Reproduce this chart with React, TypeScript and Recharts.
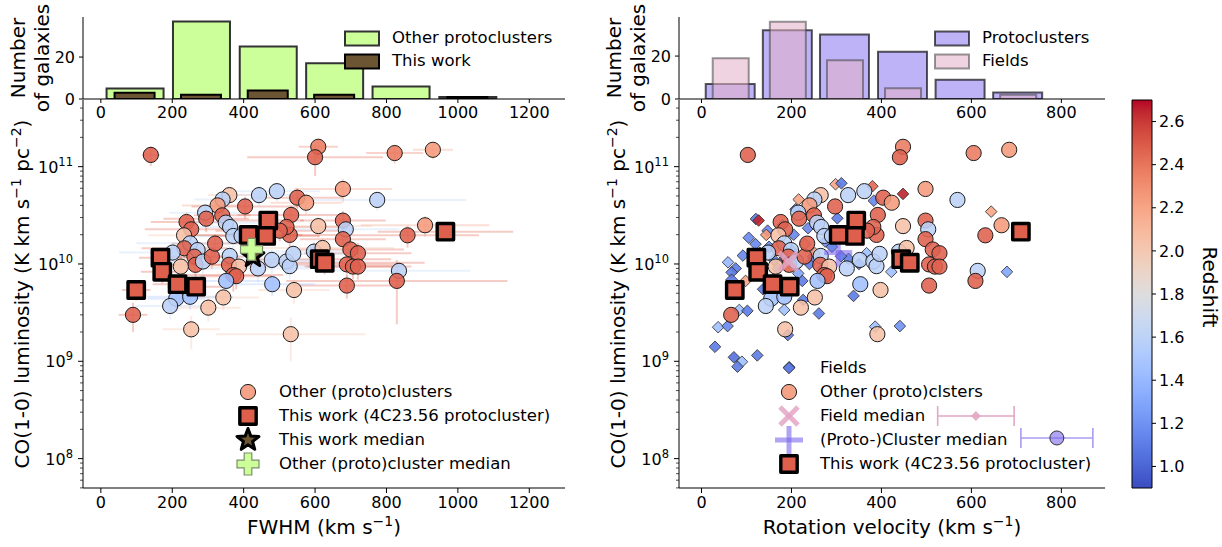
import React from 'react';
import {
  ComposedChart,
  ScatterChart,
  Scatter,
  Bar,
  XAxis,
  YAxis,
  ErrorBar,
  Legend,
  ReferenceArea,
} from 'recharts';

const FONT = '"DejaVu Sans", Verdana, sans-serif';
const W = 1222;
const H = 547;

// ---------------- Histogram data ----------------
const fwhmBinCenters = [95, 281, 468, 654, 840, 1027, 1214];
const fwhmCountsOther = [5, 37, 25, 17, 6, 1, 0];
const fwhmCountsThisWork = [3, 2, 4, 2, 0, 1, 0];

const vrotBinCenters = [64, 191, 318, 447, 575, 703, 831];
const vrotCountsProto = [7, 32, 30, 22, 9, 3, 0];
const vrotCountsFields = [19, 36, 18, 5, 0, 2, 0];

// ---------------- Tick labels ----------------
const fwhmTicks = [0, 200, 400, 600, 800, 1000, 1200];
const vrotTicks = [0, 200, 400, 600, 800];
const countTicks = [0, 20];
const lumMajorTicks = [1e8, 1e9, 1e10, 1e11];
const redshiftTicks = [1.0, 1.2, 1.4, 1.6, 1.8, 2.0, 2.2, 2.4, 2.6];

// ---------------- Other (proto)cluster galaxies ----------------
const otherFwhm = [140, 609, 600, 823, 930, 678, 774, 360, 341, 327, 443, 493, 550, 575, 404, 292, 295, 340, 350, 362, 533, 240, 253, 233, 250, 234, 271, 262, 265, 224, 286, 311, 320, 201, 361, 359, 387, 371, 379, 351, 440, 479, 480, 520, 529, 539, 541, 343, 301, 211, 194, 250, 90, 253, 532, 597, 621, 609, 529, 520, 501, 371, 394, 678, 686, 678, 699, 720, 689, 706, 720, 689, 835, 829, 859, 908];
const otherFwhmErr = [25, 55, 190, 80, 56, 137, 250, 60, 80, 100, 120, 120, 130, 100, 150, 100, 120, 80, 120, 100, 150, 100, 130, 100, 150, 120, 100, 100, 120, 60, 100, 90, 120, 150, 180, 120, 100, 140, 100, 150, 150, 130, 120, 200, 150, 150, 100, 100, 90, 80, 100, 120, 40, 80, 210, 150, 200, 150, 150, 150, 180, 120, 120, 120, 150, 120, 150, 150, 160, 130, 150, 150, 200, 310, 200, 180];
const otherVrot = [103, 448, 441, 605, 684, 498, 569, 265, 251, 240, 326, 362, 404, 423, 297, 215, 217, 250, 257, 266, 392, 176, 186, 171, 184, 172, 199, 193, 195, 165, 210, 229, 235, 148, 265, 264, 284, 273, 279, 258, 323, 352, 353, 382, 389, 396, 398, 252, 221, 155, 143, 184, 66, 186, 391, 439, 456, 448, 389, 382, 368, 273, 290, 498, 504, 498, 514, 529, 506, 519, 529, 506, 614, 609, 631, 667];
// luminosity in units of 1e10 K km s^-1 pc^-2
const otherLum = [13.2, 16, 12.5, 13.8, 14.9, 5.9, 4.55, 5.1, 4.6, 4.0, 5.1, 5.6, 4.8, 4.26, 3.9, 3.37, 2.92, 3.16, 2.66, 2.4, 3.19, 2.7, 2.27, 1.97, 1.63, 1.45, 1.39, 1.19, 0.98, 0.94, 1.06, 1.19, 1.62, 1.31, 1.21, 0.98, 0.94, 0.77, 0.75, 0.67, 0.9, 1.1, 0.62, 1.06, 0.95, 1.27, 0.54, 0.453, 0.356, 0.44, 0.37, 0.46, 0.3, 0.213, 0.19, 1.34, 1.46, 2.45, 1.99, 2.4, 2.2, 1.94, 1.94, 2.79, 2.27, 1.8, 1.41, 1.29, 0.99, 0.94, 0.94, 0.6, 0.85, 0.67, 1.97, 2.5];
const otherLumErr = [3.0, 3.5, 4.5, 3.0, 3.0, 1.6, 1.0, 1.2, 1.0, 1.0, 1.2, 1.2, 1.2, 1.0, 1.0, 0.8, 0.8, 0.8, 0.6, 0.6, 0.8, 0.7, 0.6, 0.5, 0.4, 0.4, 0.35, 0.3, 0.25, 0.25, 0.3, 0.3, 0.4, 0.35, 0.3, 0.25, 0.25, 0.25, 0.2, 0.2, 0.25, 0.3, 0.15, 0.3, 0.25, 0.3, 0.15, 0.12, 0.1, 0.12, 0.1, 0.12, 0.1, 0.08, 0.09, 0.35, 0.4, 0.6, 0.5, 0.6, 0.5, 0.5, 0.5, 0.7, 0.6, 0.5, 0.35, 0.35, 0.25, 0.25, 0.25, 0.16, 0.2, 0.43, 0.5, 0.6];
const otherZ = [2.47, 2.38, 2.47, 2.38, 2.25, 2.25, 1.6, 2.05, 1.6, 2.25, 1.6, 1.6, 2.47, 2.25, 2.47, 1.6, 2.47, 2.47, 1.6, 1.6, 2.47, 2.47, 2.47, 2.05, 1.6, 2.47, 1.6, 2.47, 2.47, 2.05, 1.6, 2.47, 2.47, 1.6, 1.6, 2.47, 2.05, 2.47, 2.47, 1.45, 1.6, 1.6, 1.45, 1.6, 1.6, 1.6, 2.05, 2.05, 2.05, 1.45, 1.6, 1.45, 2.47, 2.05, 2.05, 1.6, 2.05, 2.05, 2.47, 2.47, 2.47, 1.6, 1.6, 2.47, 1.6, 2.47, 2.47, 2.47, 2.47, 2.47, 2.47, 2.47, 1.6, 2.47, 2.47, 2.25];

// ---------------- This work (4C23.56 protocluster) ----------------
const twFwhm = [99, 167, 172, 215, 267, 414, 469, 463, 613, 627, 965];
const twFwhmErr = [40, 60, 60, 70, 80, 150, 100, 150, 200, 280, 190];
const twVrot = [74, 122, 126, 158, 196, 305, 344, 341, 444, 463, 710];
const twLum = [0.54, 1.16, 0.83, 0.62, 0.585, 1.99, 2.79, 1.94, 1.12, 1.03, 2.15];
const twLumErr = [0.12, 0.25, 0.2, 0.15, 0.15, 0.4, 0.5, 0.4, 0.25, 0.25, 0.4];
const twRedshift = 2.48;

// ---------------- Field galaxies ----------------
const fieldVrot = [298, 311, 380, 448, 216, 383, 209, 121, 127, 302, 237, 147, 105, 144, 92, 59, 76, 67, 98, 137, 224, 226, 184, 84, 102, 261, 338, 37, 58, 30, 72, 90, 80, 124, 195, 192, 386, 441, 422, 367, 327, 644, 679, 248, 252, 67, 161, 150, 170, 200, 230, 180, 160, 215, 270, 290, 130, 240, 205, 275, 310, 185, 120, 350];
const fieldLum = [6.6, 6.75, 6.3, 5.25, 4.6, 4.47, 3.65, 2.9, 2.8, 2.95, 2.33, 2.2, 1.86, 1.99, 1.22, 1.04, 0.9, 0.82, 0.67, 0.55, 0.67, 0.427, 0.337, 0.337, 0.33, 0.31, 0.47, 0.224, 0.23, 0.141, 0.11, 0.099, 0.088, 0.115, 0.087, 0.186, 0.227, 0.23, 0.83, 1.29, 1.13, 3.45, 0.83, 1.19, 1.29, 0.69, 1.1, 1.5, 0.9, 1.4, 1.6, 2.5, 0.7, 0.8, 0.9, 1.5, 1.3, 1.0, 2.0, 1.7, 1.2, 1.15, 1.6, 1.0];
const fieldZ = [2.2, 1.1, 2.45, 2.65, 2.2, 1.15, 1.15, 1.1, 2.65, 1.1, 1.15, 1.15, 1.15, 2.25, 1.15, 1.4, 1.1, 1.1, 2.2, 1.1, 1.1, 1.1, 1.45, 1.45, 1.1, 1.1, 1.1, 1.45, 1.15, 1.1, 1.05, 1.45, 1.1, 1.1, 1.1, 1.1, 1.45, 1.2, 1.45, 1.45, 1.1, 2.2, 1.3, 1.15, 2.2, 1.1, 1.15, 1.15, 1.15, 1.1, 2.2, 1.2, 1.15, 1.3, 1.15, 1.1, 1.15, 1.1, 1.15, 1.2, 1.1, 1.2, 1.15, 1.1];

// ---------------- Medians ----------------
const otherMedianFwhm = [422];
const otherMedianLum = [1.41];
const twMedianFwhm = [426];
const twMedianLum = [1.2];
const fieldMedianVrot = [193];
const fieldMedianLum = [1.06];
const clusterMedianVrot = [304];
const clusterMedianLum = [1.31];
// median +/- spread markers drawn beside the legend
const fieldSpreadVrot = [610];
const fieldSpreadErr = [85];
const fieldSpreadLum = [0.0274];
const clusterSpreadVrot = [790];
const clusterSpreadErr = [80];
const clusterSpreadLum = [0.0163];

// ---------------- colour map (coolwarm) ----------------
const Z_MIN = 0.9;
const Z_MAX = 2.7;
const CW: number[][] = [
  [59, 76, 192], [68, 90, 204], [77, 104, 215], [87, 117, 225], [98, 130, 234], [108, 142, 241], [119, 154, 247], [130, 165, 251],
  [141, 176, 254], [152, 185, 255], [163, 194, 255], [174, 201, 253], [184, 208, 249], [194, 213, 244], [204, 217, 238], [213, 219, 230],
  [221, 221, 221], [229, 216, 209], [236, 211, 197], [241, 204, 184], [245, 196, 172], [247, 187, 160], [247, 177, 148], [247, 166, 135],
  [244, 154, 123], [241, 141, 111], [236, 127, 99], [229, 112, 88], [222, 96, 77], [213, 80, 66], [203, 62, 56], [192, 40, 47], [180, 4, 38],
];
function cwT(t: number): string {
  const tt = Math.max(0, Math.min(1, t));
  const f = tt * 32;
  const i = Math.min(31, Math.floor(f));
  const u = f - i;
  const a = CW[i];
  const b = CW[i + 1];
  const c = a.map((v, k) => Math.round(v + (b[k] - v) * u));
  return `rgb(${c[0]},${c[1]},${c[2]})`;
}
const coolwarm = (z: number) => cwT((z - Z_MIN) / (Z_MAX - Z_MIN));

// ---------------- scales ----------------
const FWHM_DOMAIN: [number, number] = [-50, 1300];
const VROT_DOMAIN: [number, number] = [-50, 897];
const LUM_MIN = Math.pow(10, 7.698);
const LUM_MAX = Math.pow(10, 11.685);
const lumTicksAll: number[] = [];
[7, 8, 9, 10, 11].forEach((e) =>
  [1, 2, 3, 4, 5, 6, 7, 8, 9].forEach((m) => {
    const v = m * Math.pow(10, e);
    if (v >= LUM_MIN && v <= LUM_MAX) lumTicksAll.push(v);
  })
);

// ---------------- tables ----------------
const fwhmHistData = fwhmBinCenters.map((c, i) => ({ c, o: fwhmCountsOther[i], t: fwhmCountsThisWork[i] }));
const vrotHistData = vrotBinCenters.map((c, i) => ({ c, p: vrotCountsProto[i], f: vrotCountsFields[i] }));

const otherFwhmRows = otherFwhm.map((x, i) => ({ x, y: otherLum[i] * 1e10, z: otherZ[i], xe: otherFwhmErr[i], ye: otherLumErr[i] * 1e10 }));
const otherVrotRows = otherVrot.map((x, i) => ({ x, y: otherLum[i] * 1e10, z: otherZ[i] }));
const twFwhmRows = twFwhm.map((x, i) => ({ x, y: twLum[i] * 1e10, z: twRedshift, xe: twFwhmErr[i], ye: twLumErr[i] * 1e10 }));
const twVrotRows = twVrot.map((x, i) => ({ x, y: twLum[i] * 1e10, z: twRedshift }));
const fieldRows = fieldVrot.map((x, i) => ({ x, y: fieldLum[i] * 1e10, z: fieldZ[i] }));
const zGroups = Array.from(new Set(otherZ));

// ---------------- shapes ----------------
const noShape = () => <g />;
const circleShape = (p: any) => (
  <circle cx={p.cx} cy={p.cy} r={7.6} fill={coolwarm(p.payload.z)} fillOpacity={0.88} stroke="#1e1e1e" strokeWidth={1} />
);
const squareShape = (p: any) => (
  <rect x={p.cx - 8.2} y={p.cy - 8.2} width={16.4} height={16.4} fill={coolwarm(p.payload.z)} stroke="#000" strokeWidth={3.4} strokeLinejoin="round" />
);
const diamondPath = (cx: number, cy: number, s: number) => `M${cx},${cy - s}L${cx + s},${cy}L${cx},${cy + s}L${cx - s},${cy}Z`;
const diamondShape = (p: any) => (
  <path d={diamondPath(p.cx, p.cy, 5.8)} fill={coolwarm(p.payload.z)} fillOpacity={0.9} stroke="#2a2a2a" strokeWidth={0.8} />
);
function starPath(cx: number, cy: number, R: number, r: number) {
  let d = '';
  for (let k = 0; k < 10; k++) {
    const ang = -Math.PI / 2 + (k * Math.PI) / 5;
    const rad = k % 2 === 0 ? R : r;
    d += (k === 0 ? 'M' : 'L') + (cx + rad * Math.cos(ang)).toFixed(2) + ',' + (cy + rad * Math.sin(ang)).toFixed(2);
  }
  return d + 'Z';
}
const starShape = (p: any) => <path d={starPath(p.cx, p.cy, 11.5, 4.8)} fill="#6b5533" stroke="#000" strokeWidth={3} strokeLinejoin="round" />;
function plusPath(cx: number, cy: number, a: number, b: number) {
  return `M${cx - b},${cy - a}L${cx + b},${cy - a}L${cx + b},${cy - b}L${cx + a},${cy - b}L${cx + a},${cy + b}L${cx + b},${cy + b}L${cx + b},${cy + a}L${cx - b},${cy + a}L${cx - b},${cy + b}L${cx - a},${cy + b}L${cx - a},${cy - b}L${cx - b},${cy - b}Z`;
}
const greenPlusShape = (p: any) => <path d={plusPath(p.cx, p.cy, 11, 3.8)} fill="#ccff99" stroke="#7d8c6c" strokeWidth={1.2} />;
const pinkXShape = (p: any) => (
  <g stroke="#e3a6c4" strokeOpacity={0.85} strokeWidth={5}>
    <line x1={p.cx - 9} y1={p.cy - 9} x2={p.cx + 9} y2={p.cy + 9} />
    <line x1={p.cx - 9} y1={p.cy + 9} x2={p.cx + 9} y2={p.cy - 9} />
  </g>
);
const purplePlusShape = (p: any) => (
  <g stroke="#7b68ee" strokeOpacity={0.6} strokeWidth={5}>
    <line x1={p.cx - 14} y1={p.cy} x2={p.cx + 14} y2={p.cy} />
    <line x1={p.cx} y1={p.cy - 14} x2={p.cx} y2={p.cy + 14} />
  </g>
);
const pinkDiamondShape = (p: any) => <path d={diamondPath(p.cx, p.cy, 5)} fill="#e3a6c4" fillOpacity={0.9} />;
const purpleCircleShape = (p: any) => (
  <circle cx={p.cx} cy={p.cy} r={7} fill="#7b68ee" fillOpacity={0.6} stroke="#333" strokeWidth={1} />
);

// ---------------- text helpers ----------------
const tickStyle = { fill: '#000', fontSize: 16, fontFamily: FONT };

const LogTick = (props: any) => {
  const { x, y, payload } = props;
  const v = payload.value as number;
  const major = lumMajorTicks.includes(v);
  const e = Math.round(Math.log10(v));
  return (
    <g>
      <line x1={x - (major ? 5 : 3)} y1={y} x2={x} y2={y} stroke="#000" strokeWidth={major ? 1 : 0.7} />
      {major && (
        <text x={x - 10} y={y + 6} textAnchor="end" fontSize={16} fontFamily={FONT} fill="#000">
          10<tspan dy={-7} fontSize={11.5}>{e}</tspan>
        </text>
      )}
    </g>
  );
};

const xLabel = (prefix: string, cx: number) => () => (
  <text x={cx} y={534} textAnchor="middle" fontSize={20} fontFamily={FONT} fill="#000">
    {prefix}
    <tspan dy={-8} fontSize={14}>−1</tspan>
    <tspan dy={8}>)</tspan>
  </text>
);
const lumLabel = (cx: number) => () => (
  <text x={cx} y={294 + 7} transform={`rotate(-90, ${cx}, 294)`} textAnchor="middle" fontSize={20} fontFamily={FONT} fill="#000">
    CO(1-0) luminosity (K km s
    <tspan dy={-8} fontSize={14}>−1</tspan>
    <tspan dy={8}> pc</tspan>
    <tspan dy={-8} fontSize={14}>−2</tspan>
    <tspan dy={8}>)</tspan>
  </text>
);
const countLabel = (cx: number) => () => (
  <g fontSize={20} fontFamily={FONT} fill="#000">
    <text x={cx} y={58 + 7} transform={`rotate(-90, ${cx}, 58)`} textAnchor="middle">Number</text>
    <text x={cx + 24} y={58 + 7} transform={`rotate(-90, ${cx + 24}, 58)`} textAnchor="middle">of galaxies</text>
  </g>
);

// ---------------- legend ----------------
type Row = { label: React.ReactNode; marker: (cx: number, cy: number) => React.ReactNode };
const legendBox = (rows: Row[], rowH: number, markerW: number, gap: number) => () => (
  <div style={{ fontFamily: FONT, fontSize: 16.5, color: '#000' }}>
    {rows.map((r, i) => (
      <div key={i} style={{ display: 'flex', alignItems: 'center', height: rowH, whiteSpace: 'nowrap' }}>
        <svg width={markerW} height={rowH} style={{ overflow: 'visible', flex: 'none', display: 'block' }}>
          {r.marker(markerW / 2, rowH / 2)}
        </svg>
        <span style={{ marginLeft: gap, lineHeight: 1 }}>{r.label}</span>
      </div>
    ))}
  </div>
);
const patch = (fill: string, fillOpacity: number, stroke: string, strokeOpacity: number) => (cx: number, cy: number) => (
  <rect x={cx - 17} y={cy - 7} width={34} height={14} fill={fill} fillOpacity={fillOpacity} stroke={stroke} strokeOpacity={strokeOpacity} strokeWidth={2} />
);
const m = (shape: (p: any) => React.ReactNode, z = 2.27) => (cx: number, cy: number) => shape({ cx, cy, payload: { z } });

const leftHistLegend: Row[] = [
  { label: 'Other protoclusters', marker: patch('#ccff99', 1, '#333', 1) },
  { label: 'This work', marker: patch('#6b5533', 1, '#000', 1) },
];
const rightHistLegend: Row[] = [
  { label: 'Protoclusters', marker: patch('#7b68ee', 0.5, '#000', 0.65) },
  { label: 'Fields', marker: patch('#e3afc6', 0.55, '#444', 0.55) },
];
const leftScatterLegend: Row[] = [
  { label: 'Other (proto)clusters', marker: m(circleShape, 2.27) },
  { label: 'This work (4C23.56 protocluster)', marker: m(squareShape, twRedshift) },
  { label: 'This work median', marker: m(starShape) },
  { label: 'Other (proto)cluster median', marker: m(greenPlusShape) },
];
const rightScatterLegend: Row[] = [
  { label: 'Fields', marker: m(diamondShape, 1.1) },
  { label: 'Other (proto)clsters', marker: m(circleShape, 2.27) },
  { label: 'Field median', marker: m(pinkXShape) },
  { label: '(Proto-)Cluster median', marker: m(purplePlusShape) },
  { label: 'This work (4C23.56 protocluster)', marker: m(squareShape, twRedshift) },
];

const abs: React.CSSProperties = { position: 'absolute', left: 0, top: 0 };

// ---------------- frame axes ----------------
const frameAxes = (domain: [number, number]) => [
  <XAxis key="ft" xAxisId="top" orientation="top" type="number" domain={domain} allowDataOverflow height={0} tick={false} tickLine={false} stroke="#000" />,
  <YAxis key="fr" yAxisId="right" orientation="right" type="number" domain={[0, 1]} allowDataOverflow width={0} tick={false} tickLine={false} stroke="#000" />,
];

function Hist(props: {
  plotLeft: number; plotRight: number; domain: [number, number]; ticks: number[]; data: any[]; ymax: number;
  keyA: string; keyB: string; sizeA: number; sizeB: number; styleA: any; styleB: any;
  legendRows: Row[]; legendLeft: number; labelX: number;
}) {
  const p = props;
  return (
    <ComposedChart width={W} height={H} data={p.data} margin={{ top: 17, right: W - p.plotRight, bottom: H - 99 - 30, left: p.plotLeft - 50 }}>
      <XAxis xAxisId="a" dataKey="c" type="number" domain={p.domain} allowDataOverflow ticks={p.ticks} interval={0} height={30} tickSize={4} tickMargin={4} tick={tickStyle} stroke="#000" />
      <XAxis xAxisId="b" dataKey="c" type="number" domain={p.domain} allowDataOverflow hide />
      <YAxis yAxisId="l" type="number" domain={[0, p.ymax]} allowDataOverflow ticks={countTicks} interval={0} width={50} tickSize={4} tickMargin={4} tick={tickStyle} stroke="#000" label={countLabel(p.labelX)} />
      {frameAxes(p.domain)}
      <Bar xAxisId="a" yAxisId="l" dataKey={p.keyA} barSize={p.sizeA} {...p.styleA} isAnimationActive={false} />
      <Bar xAxisId="b" yAxisId="l" dataKey={p.keyB} barSize={p.sizeB} {...p.styleB} isAnimationActive={false} />
      <Legend
        layout="vertical"
        align="center"
        verticalAlign="middle"
        content={legendBox(p.legendRows, 23, 36, 12)}
        wrapperStyle={{ left: p.legendLeft, top: 26.5, width: 200 }}
      />
    </ComposedChart>
  );
}

const ERR_OPACITY = 0.32;

export default function App() {
  return (
    <div style={{ position: 'absolute', left: 0, top: 0, width: W, height: H, background: '#fff', overflow: 'hidden' }}>
      {/* Left histogram */}
      <div style={abs}>
        <Hist
          plotLeft={83} plotRight={565} domain={FWHM_DOMAIN} ticks={fwhmTicks} data={fwhmHistData} ymax={39.1}
          keyA="o" keyB="t" sizeA={57} sizeB={40}
          styleA={{ fill: '#ccff99', stroke: '#333', strokeWidth: 2 }}
          styleB={{ fill: '#6b5533', stroke: '#000', strokeWidth: 2 }}
          legendRows={leftHistLegend} legendLeft={344} labelX={18}
        />
      </div>
      {/* Right histogram */}
      <div style={abs}>
        <Hist
          plotLeft={679} plotRight={1105} domain={VROT_DOMAIN} ticks={vrotTicks} data={vrotHistData} ymax={38.2}
          keyA="p" keyB="f" sizeA={49} sizeB={36}
          styleA={{ fill: '#7b68ee', fillOpacity: 0.5, stroke: '#000', strokeOpacity: 0.65, strokeWidth: 2 }}
          styleB={{ fill: '#e3afc6', fillOpacity: 0.55, stroke: '#444', strokeOpacity: 0.55, strokeWidth: 2 }}
          legendRows={rightHistLegend} legendLeft={934} labelX={614}
        />
      </div>

      {/* Left scatter: FWHM */}
      <div style={abs}>
        <ScatterChart width={W} height={H} margin={{ top: 100, right: W - 565, bottom: H - 488 - 40, left: 83 - 60 }}>
          <XAxis dataKey="x" type="number" domain={FWHM_DOMAIN} allowDataOverflow ticks={fwhmTicks} interval={0} height={40} tickSize={5} tickMargin={4} tick={tickStyle} stroke="#000" label={xLabel('FWHM (km s', 324)} />
          <YAxis dataKey="y" type="number" scale="log" domain={[LUM_MIN, LUM_MAX]} allowDataOverflow ticks={lumTicksAll} interval={0} width={60} tickSize={0} tickMargin={0} tickLine={false} tick={<LogTick />} stroke="#000" label={lumLabel(22)} />
          {frameAxes(FWHM_DOMAIN)}
          {zGroups.map((z) => (
            <Scatter key={'err' + z} data={otherFwhmRows.filter((r) => r.z === z)} shape={noShape} isAnimationActive={false} legendType="none">
              <ErrorBar dataKey="xe" direction="x" width={0} stroke={coolwarm(z)} strokeOpacity={ERR_OPACITY} strokeWidth={2} isAnimationActive={false} />
              <ErrorBar dataKey="ye" direction="y" width={0} stroke={coolwarm(z)} strokeOpacity={ERR_OPACITY} strokeWidth={2} isAnimationActive={false} />
            </Scatter>
          ))}
          <Scatter data={twFwhmRows} shape={noShape} isAnimationActive={false} legendType="none">
            <ErrorBar dataKey="xe" direction="x" width={0} stroke={coolwarm(twRedshift)} strokeOpacity={ERR_OPACITY} strokeWidth={2} isAnimationActive={false} />
            <ErrorBar dataKey="ye" direction="y" width={0} stroke={coolwarm(twRedshift)} strokeOpacity={ERR_OPACITY} strokeWidth={2} isAnimationActive={false} />
          </Scatter>
          <Scatter data={otherFwhmRows} shape={circleShape} isAnimationActive={false} />
          <Scatter data={twFwhmRows} shape={squareShape} isAnimationActive={false} />
          <Scatter data={twMedianFwhm.map((x, i) => ({ x, y: twMedianLum[i] * 1e10 }))} shape={starShape} isAnimationActive={false} />
          <Scatter data={otherMedianFwhm.map((x, i) => ({ x, y: otherMedianLum[i] * 1e10 }))} shape={greenPlusShape} isAnimationActive={false} />
          <Legend layout="vertical" align="center" verticalAlign="middle" content={legendBox(leftScatterLegend, 24, 40, 11)} wrapperStyle={{ left: 228, top: 380, width: 330 }} />
        </ScatterChart>
      </div>

      {/* Right scatter: rotation velocity */}
      <div style={abs}>
        <ScatterChart width={W} height={H} margin={{ top: 100, right: W - 1105, bottom: H - 488 - 40, left: 679 - 60 }}>
          <XAxis dataKey="x" type="number" domain={VROT_DOMAIN} allowDataOverflow ticks={vrotTicks} interval={0} height={40} tickSize={5} tickMargin={4} tick={tickStyle} stroke="#000" label={xLabel('Rotation velocity (km s', 892)} />
          <YAxis dataKey="y" type="number" scale="log" domain={[LUM_MIN, LUM_MAX]} allowDataOverflow ticks={lumTicksAll} interval={0} width={60} tickSize={0} tickMargin={0} tickLine={false} tick={<LogTick />} stroke="#000" label={lumLabel(618)} />
          {frameAxes(VROT_DOMAIN)}
          <Scatter data={fieldRows} shape={diamondShape} isAnimationActive={false} />
          <Scatter data={otherVrotRows} shape={circleShape} isAnimationActive={false} />
          <Scatter data={fieldMedianVrot.map((x, i) => ({ x, y: fieldMedianLum[i] * 1e10 }))} shape={pinkXShape} isAnimationActive={false} />
          <Scatter data={clusterMedianVrot.map((x, i) => ({ x, y: clusterMedianLum[i] * 1e10 }))} shape={purplePlusShape} isAnimationActive={false} />
          <Scatter data={twVrotRows} shape={squareShape} isAnimationActive={false} />
          <Scatter data={fieldSpreadVrot.map((x, i) => ({ x, y: fieldSpreadLum[i] * 1e10, xe: fieldSpreadErr[i] }))} shape={pinkDiamondShape} isAnimationActive={false}>
            <ErrorBar dataKey="xe" direction="x" width={10} stroke="#e3a6c4" strokeWidth={1.6} isAnimationActive={false} />
          </Scatter>
          <Scatter data={clusterSpreadVrot.map((x, i) => ({ x, y: clusterSpreadLum[i] * 1e10, xe: clusterSpreadErr[i] }))} shape={purpleCircleShape} isAnimationActive={false}>
            <ErrorBar dataKey="xe" direction="x" width={10} stroke="#a99cf2" strokeWidth={1.6} isAnimationActive={false} />
          </Scatter>
          <Legend layout="vertical" align="center" verticalAlign="middle" content={legendBox(rightScatterLegend, 24, 40, 11)} wrapperStyle={{ left: 769, top: 356, width: 330 }} />
        </ScatterChart>
      </div>

      {/* Colour bar */}
      <div style={abs}>
        <ComposedChart width={W} height={H} data={[{ x: 0 }, { x: 1 }]} margin={{ top: 100, right: W - 1152 - 60, bottom: H - 488, left: 1132 }}>
          <defs>
            <linearGradient id="cwgrad" x1="0" y1="1" x2="0" y2="0">
              {CW.map((_, i) => (
                <stop key={i} offset={`${(i / 32) * 100}%`} stopColor={cwT(i / 32)} />
              ))}
            </linearGradient>
          </defs>
          <XAxis dataKey="x" type="number" domain={[0, 1]} allowDataOverflow hide />
          <YAxis
            orientation="right" type="number" domain={[Z_MIN, Z_MAX]} allowDataOverflow ticks={redshiftTicks} interval={0}
            width={60} tickSize={4} tickMargin={3} axisLine={false} stroke="#000" tick={tickStyle}
            tickFormatter={(v: number) => v.toFixed(1)}
            label={() => (
              <text x={1203 - 7} y={294} transform={`rotate(90, 1203, 294)`} textAnchor="middle" fontSize={20} fontFamily={FONT} fill="#000">
                Redshift
              </text>
            )}
          />
          <ReferenceArea x1={0} x2={1} y1={Z_MIN} y2={Z_MAX} fill="url(#cwgrad)" fillOpacity={1} stroke="#000" strokeWidth={1} ifOverflow="visible" />
        </ComposedChart>
      </div>
    </div>
  );
}
